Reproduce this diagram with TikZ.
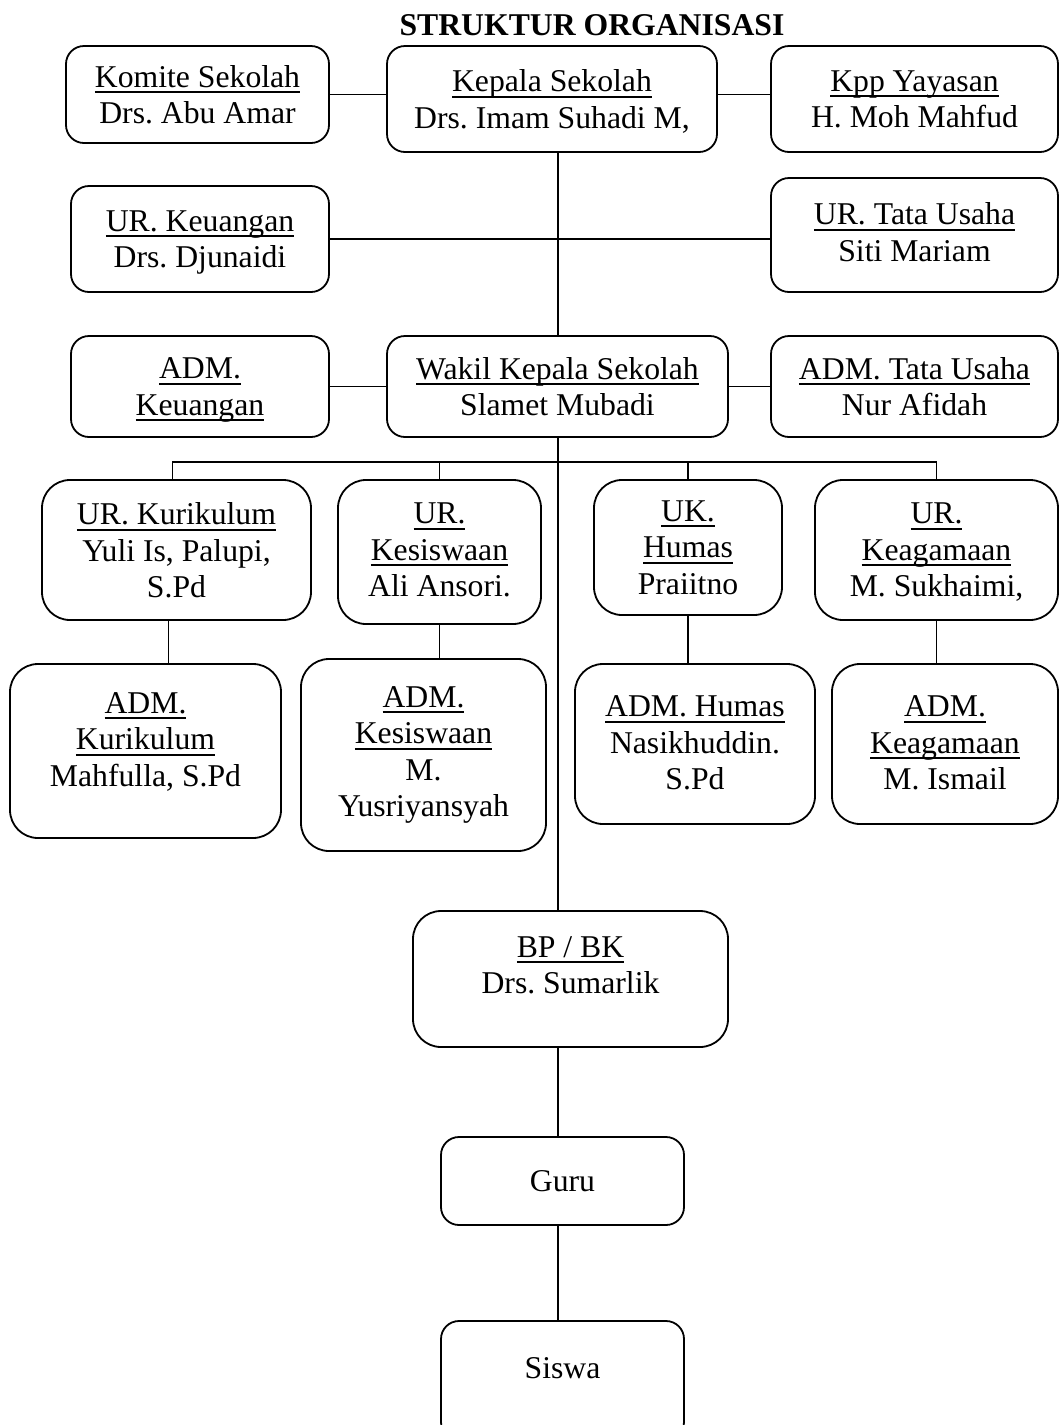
\documentclass[tikz,border=0pt]{standalone}
\usepackage{fontspec}
\setmainfont{Liberation Serif}
\usepackage{tikz}
\frenchspacing

\newsavebox{\jabbox}
\newcommand{\jab}[1]{\sbox{\jabbox}{#1}\rlap{\rule[-6pt]{\wd\jabbox}{2pt}}\usebox{\jabbox}}

\begin{document}
\begin{tikzpicture}[x=1pt,y=-1pt,
        box/.style={draw,line width=1.8pt,rounded corners=18pt,align=center,inner sep=0pt,
            font=\fontsize{31.7}{36.5}\selectfont},
        tall/.style={rounded corners=28pt},
        lift/.style={text depth=#1},
        link/.style={line width=1.8pt}]
    \clip (0,0) rectangle (1060,1425);
    \node (judul) [font=\bfseries\fontsize{31.7}{36.5}\selectfont] at (592,25) {STRUKTUR ORGANISASI};

    \node (komite) [box,lift=-8pt,minimum width=263pt,minimum height=97pt] at (197.5,94.5)
        {\jab{Komite Sekolah}\\Drs. Abu Amar};
    \node (kepala) [box,lift=-3pt,minimum width=330pt,minimum height=106pt] at (552,99)
        {\jab{Kepala Sekolah}\\Drs. Imam Suhadi M,};
    \node (kpp) [box,lift=-3pt,minimum width=287pt,minimum height=106pt] at (914.5,99)
        {\jab{Kpp Yayasan}\\H. Moh Mahfud};

    \node (keu) [box,lift=-10pt,minimum width=258pt,minimum height=106pt] at (200,239)
        {\jab{UR. Keuangan}\\Drs. Djunaidi};
    \node (tu) [box,lift=6pt,minimum width=287pt,minimum height=114pt] at (914.5,235)
        {\jab{UR. Tata Usaha}\\Siti Mariam};

    \node (admkeu) [box,lift=-2pt,minimum width=258pt,minimum height=101pt] at (200,386.5)
        {\jab{ADM.}\\\jab{Keuangan}};
    \node (wakil) [box,lift=-4pt,minimum width=341pt,minimum height=101pt] at (557.5,386.5)
        {\jab{Wakil Kepala Sekolah}\\Slamet Mubadi};
    \node (admtu) [box,lift=-4pt,minimum width=287pt,minimum height=101pt] at (914.5,386.5)
        {\jab{ADM. Tata Usaha}\\Nur Afidah};

    \node (kur) [box,tall,lift=-6pt,minimum width=269pt,minimum height=140pt] at (176.5,550)
        {\jab{UR. Kurikulum}\\Yuli Is, Palupi,\\S.Pd};
    \node (kes) [box,tall,lift=4pt,minimum width=203pt,minimum height=144pt] at (439.5,552)
        {\jab{UR.}\\\jab{Kesiswaan}\\Ali Ansori.};
    \node (hum) [box,tall,lift=-11pt,minimum width=188pt,minimum height=135pt] at (688,547.5)
        {\jab{UK.}\\\jab{Humas}\\Praiitno};
    \node (aga) [box,tall,lift=-6pt,minimum width=243pt,minimum height=140pt] at (936.5,550)
        {\jab{UR.}\\\jab{Keagamaan}\\M. Sukhaimi,};

    \node (admkur) [box,tall,lift=23pt,minimum width=271pt,minimum height=174pt] at (145.5,751)
        {\jab{ADM.}\\\jab{Kurikulum}\\Mahfulla, S.Pd};
    \node (admkes) [box,tall,minimum width=245pt,minimum height=192pt] at (423.5,755)
        {\jab{ADM.}\\\jab{Kesiswaan}\\M.\\Yusriyansyah};
    \node (admhum) [box,tall,lift=2pt,minimum width=240pt,minimum height=160pt] at (695,744)
        {\jab{ADM. Humas}\\Nasikhuddin.\\S.Pd};
    \node (admaga) [box,tall,lift=2pt,minimum width=226pt,minimum height=160pt] at (945,744)
        {\jab{ADM.}\\\jab{Keagamaan}\\M. Ismail};

    \node (bk) [box,tall,lift=28pt,minimum width=315pt,minimum height=136pt] at (570.5,979)
        {\jab{BP / BK}\\Drs. Sumarlik};
    \node (guru) [box,minimum width=243pt,minimum height=88pt] at (562.5,1181) {Guru};
    \node (siswa) [box,lift=26pt,minimum width=243pt,minimum height=119pt] at (562.5,1380.5) {Siswa};

    \coordinate (tulang) at (558,0);
    \coordinate (palang) at (0,462);

    \draw[link] (komite.east) -- (komite.east -| kepala.west);
    \draw[link] (kepala.east |- komite.east) -- (kpp.west |- komite.east);
    \draw[link] (keu.east) -- (keu.east -| tu.west);
    \draw[link] (admkeu.east) -- (wakil.west);
    \draw[link] (wakil.east) -- (admtu.west);

    \draw[link] (kepala.south -| tulang) -- (wakil.north -| tulang);
    \draw[link] (wakil.south -| tulang) -- (bk.north -| tulang);
    \draw[link] (bk.south -| tulang) -- (guru.north -| tulang);
    \draw[link] (guru.south -| tulang) -- (siswa.north -| tulang);

    \draw[link] ([xshift=-4pt]kur.north) |- (palang -| aga.north) -- (aga.north);
    \draw[link] (kes.north) -- (kes.north |- palang);
    \draw[link] (hum.north) -- (hum.north |- palang);

    \draw[link] ([xshift=-8pt]kur.south) -- ([xshift=-8pt]kur.south |- admkur.north);
    \draw[link] (kes.south) -- (kes.south |- admkes.north);
    \draw[link] (hum.south) -- (hum.south |- admhum.north);
    \draw[link] (aga.south) -- (aga.south |- admaga.north);
\end{tikzpicture}
\end{document}
